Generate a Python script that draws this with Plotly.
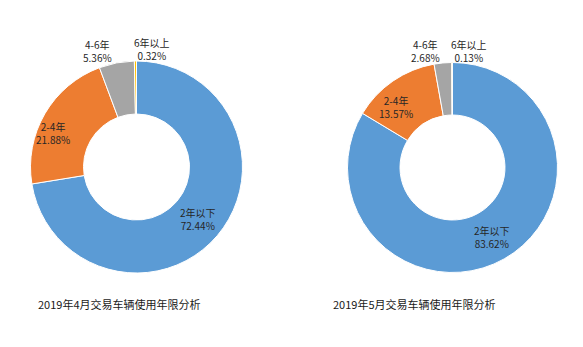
import math
import plotly.graph_objects as go

categories = ["2年以下", "2-4年", "4-6年", "6年以上"]
april_values = [72.44, 21.88, 5.36, 0.32]
may_values = [83.62, 13.57, 2.68, 0.13]
titles = ["2019年4月交易车辆使用年限分析", "2019年5月交易车辆使用年限分析"]
colors = ["#5B9BD5", "#ED7D31", "#A5A5A5", "#FFC000"]

# label styling (per category)
label_radius = [0.76, 0.82, 1.11, 1.11]
label_xanchor = ["center", "center", "right", "left"]
label_shift = [(0, 0), (-8, -10), (0, 0), (-3, 0)]

W, H = 583, 347
font_family = "Noto Sans CJK SC, Microsoft YaHei, sans-serif"
text_color = "#262626"

fig = go.Figure()


def add_donut(values, cx, cy, r):
    fig.add_trace(go.Pie(
        labels=categories,
        values=values,
        sort=False,
        direction="clockwise",
        rotation=0,
        hole=0.5,
        marker=dict(colors=colors, line=dict(color="white", width=1)),
        textinfo="none",
        showlegend=False,
        hovertemplate="%{label}: %{value:.2f}%<extra></extra>",
        domain=dict(x=[(cx - r) / W, (cx + r) / W], y=[(H - cy - r) / H, (H - cy + r) / H]),
    ))
    total = sum(values)
    cum = 0.0
    for i, (cat, v) in enumerate(zip(categories, values)):
        mid = (cum + v / 2) / total * 2 * math.pi
        cum += v
        rr = r * label_radius[i]
        px = cx + rr * math.sin(mid)
        py = cy - rr * math.cos(mid)
        fig.add_annotation(
            text=f"{cat}<br>{v:.2f}%",
            x=px / W, y=(H - py) / H, xref="paper", yref="paper",
            xanchor=label_xanchor[i], yanchor="middle",
            xshift=label_shift[i][0], yshift=label_shift[i][1],
            showarrow=False, align="center",
            font=dict(size=10, color=text_color, family=font_family),
        )


add_donut(april_values, 136.5, 167, 106)
add_donut(may_values, 452.5, 167.5, 105)

for t, x in zip(titles, [119, 414]):
    fig.add_annotation(text=t, x=x / W, y=(H - 304) / H, xref="paper", yref="paper",
                       xanchor="center", yanchor="middle",
                       showarrow=False, font=dict(size=11, color="#1a1a1a", family=font_family))

fig.update_layout(
    width=W, height=H,
    margin=dict(l=0, r=0, t=0, b=0),
    paper_bgcolor="white", plot_bgcolor="white",
)
fig.write_html("out.html")
